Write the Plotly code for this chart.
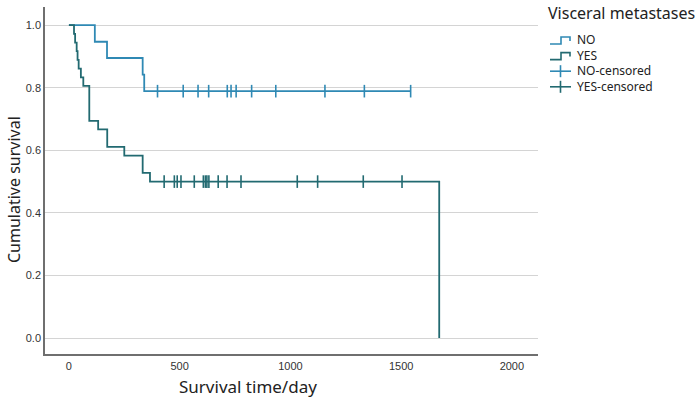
import numpy as np
import plotly.graph_objects as go

# ---- data ----
no_times = [0, 117, 172, 333, 340, 1543]
no_surv = [1.0, 0.947, 0.895, 0.842, 0.789, 0.789]
no_censor = [400, 516, 583, 631, 715, 732, 755, 825, 934, 1156, 1334, 1543]

yes_times = [0, 23, 28, 35, 39, 44, 54, 65, 92, 132, 173, 250, 333, 366, 1672]
yes_surv = [1.0, 0.972, 0.944, 0.917, 0.889, 0.861, 0.833, 0.806, 0.694, 0.667,
            0.611, 0.583, 0.528, 0.5, 0.0]
yes_censor = [430, 476, 489, 506, 566, 607, 616, 623, 632, 674, 714, 777,
              1031, 1123, 1329, 1504]

x_ticks = [0, 500, 1000, 1500, 2000]
y_ticks = [0.0, 0.2, 0.4, 0.6, 0.8, 1.0]

legend_title = "Visceral metastases"
legend_labels = ["NO", "YES", "NO-censored", "YES-censored"]

NO_COLOR = "#2f89b4"
YES_COLOR = "#226a71"


def surv_at(times, surv, t):
    idx = np.searchsorted(np.array(times), t, side="right") - 1
    return [surv[i] for i in idx]


fig = go.Figure()
fig.add_trace(go.Scatter(x=no_times, y=no_surv, mode="lines", line_shape="hv",
                         line=dict(color=NO_COLOR, width=1.8), showlegend=False))
fig.add_trace(go.Scatter(x=yes_times, y=yes_surv, mode="lines", line_shape="hv",
                         line=dict(color=YES_COLOR, width=1.8), showlegend=False))
fig.add_trace(go.Scatter(x=no_censor, y=surv_at(no_times, no_surv, no_censor), mode="markers",
                         marker=dict(symbol="line-ns", size=9,
                                     line=dict(color=NO_COLOR, width=1.6)),
                         showlegend=False))
fig.add_trace(go.Scatter(x=yes_censor, y=surv_at(yes_times, yes_surv, yes_censor), mode="markers",
                         marker=dict(symbol="line-ns", size=9,
                                     line=dict(color=YES_COLOR, width=1.6)),
                         showlegend=False))

W, H = 700, 404
L, R, T, B = 45, 162, 7, 50
pw, ph = W - L - R, H - T - B


def px(xp):
    return (xp - L) / pw


def py(yp):
    return 1 - (yp - T) / ph


LEG_FONT = 12
step = LEG_FONT * 1.3
y0 = 40

shapes = []
annotations = []
annotations.append(dict(x=px(546), y=py(13), xref="paper", yref="paper",
                        text=legend_title, showarrow=False, xanchor="left", yanchor="middle",
                        font=dict(family="Noto Sans", size=16, color="#222")))
annotations.append(dict(x=px(576), y=py(y0 + 1.5 * step), xref="paper", yref="paper",
                        text="<br>".join(legend_labels), showarrow=False, align="left",
                        xanchor="left", yanchor="middle", borderpad=0,
                        font=dict(family="Noto Sans", size=LEG_FONT, color="#222")))
legend_colors = [NO_COLOR, YES_COLOR, NO_COLOR, YES_COLOR]
for i, col in enumerate(legend_colors):
    yc = y0 + i * step
    if i < 2:
        path = "M {} {} L {} {} L {} {} L {} {} L {} {}".format(
            px(550), py(yc + 4), px(561), py(yc + 4), px(561), py(yc - 3),
            px(570), py(yc - 3), px(570), py(yc + 1))
        shapes.append(dict(type="path", xref="paper", yref="paper", path=path,
                           line=dict(color=col, width=1.6)))
    else:
        shapes.append(dict(type="line", xref="paper", yref="paper",
                           x0=px(550), x1=px(571), y0=py(yc), y1=py(yc),
                           line=dict(color=col, width=1.6)))
        shapes.append(dict(type="line", xref="paper", yref="paper",
                           x0=px(560.5), x1=px(560.5), y0=py(yc - 6), y1=py(yc + 6),
                           line=dict(color=col, width=1.6)))

annotations.append(dict(x=px(248), y=py(386), xref="paper", yref="paper",
                        text="Survival time/day", showarrow=False, xanchor="center",
                        yanchor="middle", font=dict(family="Noto Sans", size=17, color="#222")))
annotations.append(dict(x=px(14), y=py(190), xref="paper", yref="paper",
                        text="Cumulative survival", showarrow=False, textangle=-90,
                        xanchor="center", yanchor="middle",
                        font=dict(family="Noto Sans", size=16, color="#222")))

fig.update_layout(
    width=W, height=H,
    margin=dict(l=L, r=R, t=T, b=B, pad=0),
    paper_bgcolor="white", plot_bgcolor="white",
    showlegend=False,
    shapes=shapes, annotations=annotations,
    xaxis=dict(range=[-108, 2118], tickvals=x_ticks, ticks="", showgrid=False,
               zeroline=False, showline=True, linecolor="#6f6f6f", linewidth=1.5,
               tickfont=dict(family="Liberation Sans", size=11, color="#333"),
               ticklabelstandoff=1),
    yaxis=dict(range=[-0.051, 1.058], tickvals=y_ticks, tickformat=".1f", ticks="",
               showgrid=True, gridcolor="#d4d4d4", gridwidth=1.2, zeroline=False,
               showline=True, linecolor="#6f6f6f", linewidth=1.5,
               tickfont=dict(family="Liberation Sans", size=11, color="#333"),
               ticklabelstandoff=0),
)

fig.write_html("out.html")
